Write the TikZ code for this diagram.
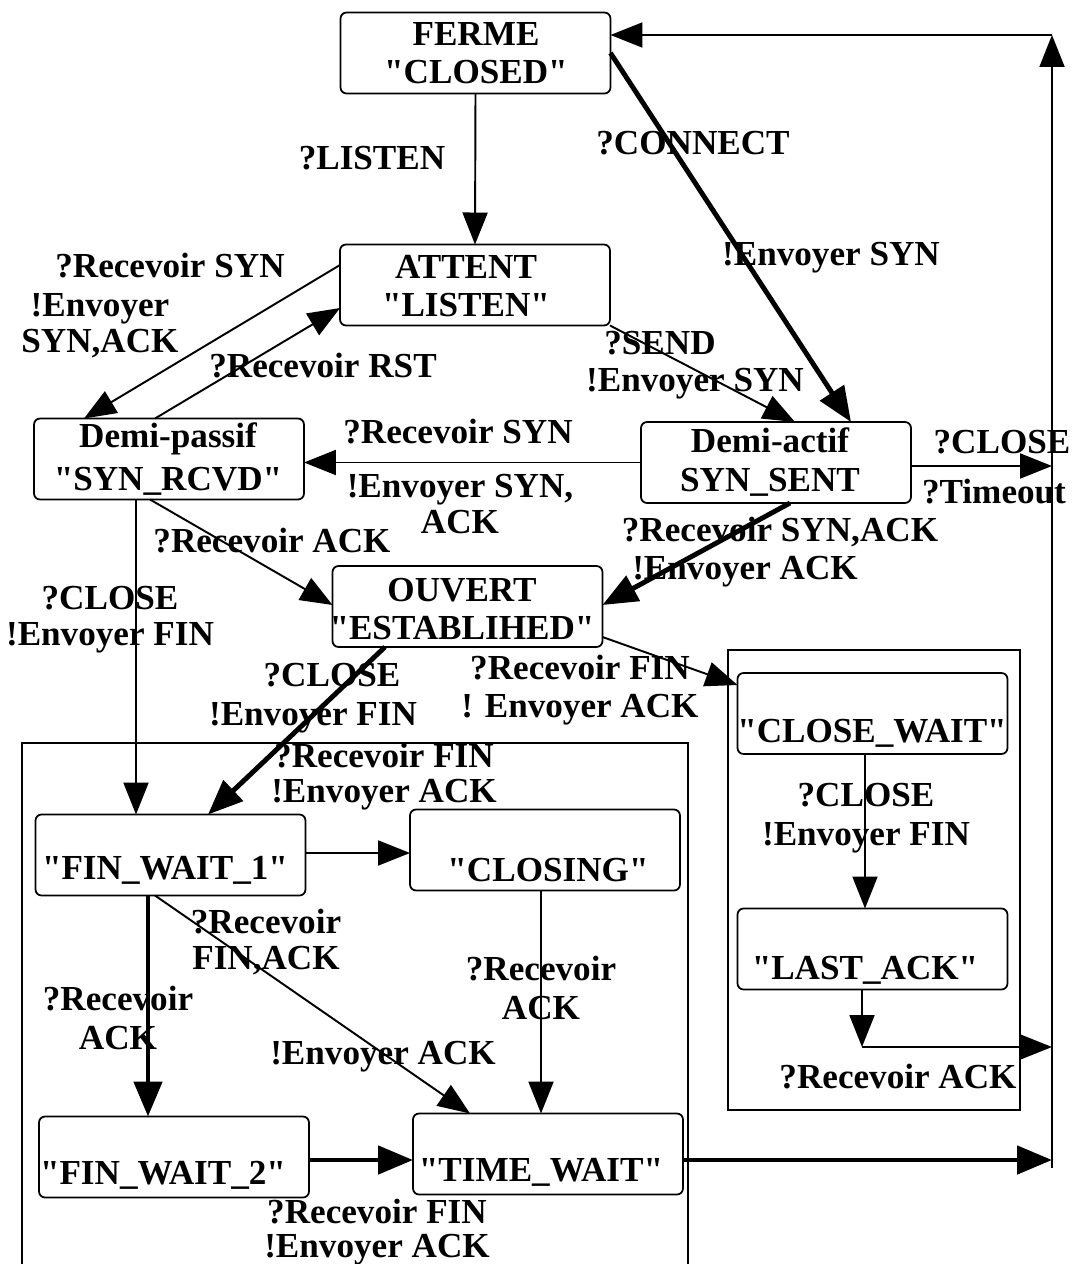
\documentclass[tikz,border=0pt]{standalone}
\usepackage{fontspec}
\setmainfont{Liberation Serif}[Ligatures=TeXOff]
\usetikzlibrary{arrows.meta}
\begin{document}
\begin{tikzpicture}[x=0.02cm,y=-0.02cm,
  state/.style={draw, line width=1pt, rounded corners=0.12cm, minimum width=5.4cm, minimum height=1.62cm, inner sep=0pt, outer sep=0pt},
  txt/.style={font=\bfseries\fontsize{20}{22}\selectfont, inner sep=0pt, align=center},
  frame/.style={line width=1pt},
  conn/.style={line width=1.1pt, -{Triangle[length=0.64cm,width=0.5cm]}},
  thickconn/.style={line width=2.8pt, -{Triangle[length=0.7cm,width=0.56cm]}}]
\useasboundingbox (0,0) rectangle (1076,1264);

% frames
\draw[frame] (22,1266) -- (22,743) -- (688,743) -- (688,1266);
\draw[frame] (728,650) rectangle (1020,1110);

% states
\node[state] (ferme) at (475.5,53) {};
\node[state] (attent) at (475,285) {};
\node[state] (passif) at (169,459) {};
\node[state] (actif) at (776,462.5) {};
\node[state] (ouvert) at (467.5,606.5) {};
\node[state] (cw) at (872.5,713.5) {};
\node[state] (la) at (872.5,949) {};
\node[state] (fw1) at (170.5,855) {};
\node[state] (closing) at (545,850) {};
\node[state] (fw2) at (174,1157) {};
\node[state] (tw) at (548,1154) {};

% state texts
\node[txt] (tferme) at (476,53) {FERME\\"CLOSED"};
\node[txt] (tattent) at (466,286) {ATTENT\\"LISTEN"};
\node[txt] (tpassif) at (168,459) {Demi-passif\\[2pt]"SYN\_RCVD"};
\node[txt] (tactif) at (770,462) {Demi-actif\\SYN\_SENT};
\node[txt] (touvert) at (462,609) {OUVERT\\"ESTABLIHED"};
\node[txt] (tcw) at (872,733) {"CLOSE\_WAIT"};
\node[txt] (tla) at (865,970) {"LAST\_ACK"};
\node[txt] (tfw1) at (165,870) {"FIN\_WAIT\_1"};
\node[txt] (tclosing) at (548,870) {"CLOSING"};
\node[txt] (tfw2) at (163,1175) {"FIN\_WAIT\_2"};
\node[txt] (ttw) at (541,1172) {"TIME\_WAIT"};

% free coordinates on the right return line
\coordinate (rt) at (1052,35);
\coordinate (rb) at (1052,1168);
\coordinate (r1) at (1052,466);
\coordinate (r2) at (1052,1047);
\coordinate (r3) at (1052,1160);
\coordinate (lb) at (862,1047);

% connectors
\draw[conn] (ferme.south) -- (attent.north);
\draw[thickconn] (ferme.east) -- (actif.north -| 851,0);
\draw[conn] (attent.west |- 0,265) -- (passif.north -| 84,0);
\draw[conn] (passif.north -| 155,0) -- (attent.west |- 0,308);
\draw[conn] (attent.south east) -- (actif.north -| 795,0);
\draw[conn] (actif.west) -- (passif.east |- actif.west);
\draw[conn] (actif.east |- 0,466) -- (r1);
\draw[thickconn] (actif.south -| 790,0) -- (ouvert.east |- 0,605);
\draw[conn] (passif.south -| 150,0) -- (ouvert.west |- 0,605);
\draw[conn] (passif.south -| 136,0) -- (fw1.north -| 136,0);
\draw[thickconn] (ouvert.south -| 385,0) -- (fw1.north -| 208,0);
\draw[conn] (ouvert.east |- 0,637) -- (cw.west |- 0,685);
\draw[conn] (cw.south -| 865,0) -- (la.north -| 865,0);
\draw[conn] (la.south -| 862,0) -- (lb);
\draw[conn] (lb) -- (r2);
\draw[conn] (fw1.east |- 0,853) -- (closing.west |- 0,853);
\draw[thickconn] (fw1.south -| 148,0) -- (fw2.north -| 148,0);
\draw[conn] (fw1.south -| 155,0) -- (tw.north -| 470,0);
\draw[conn] (closing.south -| 541,0) -- (tw.north -| 541,0);
\draw[thickconn] (fw2.east |- 0,1160) -- (tw.west |- 0,1160);
\draw[thickconn] (tw.east |- 0,1160) -- (r3);
\draw[conn] (rb) -- (rt);
\draw[conn] (rt) -- (ferme.east |- rt);

% transition labels
\node[txt] (l1) at (372,158) {?LISTEN};
\node[txt] (l2) at (693,143) {?CONNECT};
\node[txt] (l3) at (831,258) {!Envoyer SYN};
\node[txt] (l4) at (170,266) {?Recevoir SYN};
\node[txt] (l5) at (100,326) {!Envoyer\\[-1.5pt]SYN,ACK};
\node[txt] (l6) at (323,366) {?Recevoir RST};
\node[txt] (l7) at (660,343) {?SEND};
\node[txt] (l8) at (695,384) {!Envoyer SYN};
\node[txt] (l9) at (458,432) {?Recevoir SYN};
\node[txt] (l10) at (460,504) {!Envoyer SYN,\\[-2pt]ACK};
\node[txt] (l11) at (1002,442) {?CLOSE};
\node[txt] (l12) at (994,492) {?Timeout};
\node[txt] (l13) at (780,532) {?Recevoir SYN,ACK};
\node[txt] (l14) at (745,572) {!Envoyer ACK};
\node[txt] (l15) at (272,541) {?Recevoir ACK};
\node[txt] (l16) at (110,620) {?CLOSE\\[-1.5pt]!Envoyer FIN};
\node[txt] (l17) at (332,675) {?CLOSE};
\node[txt] (l18) at (313,718) {!Envoyer FIN};
\node[txt] (l19) at (580,690) {?Recevoir FIN\\! Envoyer ACK};
\node[txt] (l20) at (384,777) {?Recevoir FIN\\[-2pt]!Envoyer ACK};
\node[txt] (l21) at (866,818) {?CLOSE\\!Envoyer FIN};
\node[txt] (l22) at (898,1077) {?Recevoir ACK};
\node[txt] (l23) at (266,942) {?Recevoir\\[-2pt]FIN,ACK};
\node[txt] (l24) at (118,1018) {?Recevoir\\ACK};
\node[txt] (l25) at (541,988) {?Recevoir\\ACK};
\node[txt] (l26) at (383,1057) {!Envoyer ACK};
\node[txt] (l27) at (377,1232) {?Recevoir FIN\\[-3pt]!Envoyer ACK};
\end{tikzpicture}
\end{document}
